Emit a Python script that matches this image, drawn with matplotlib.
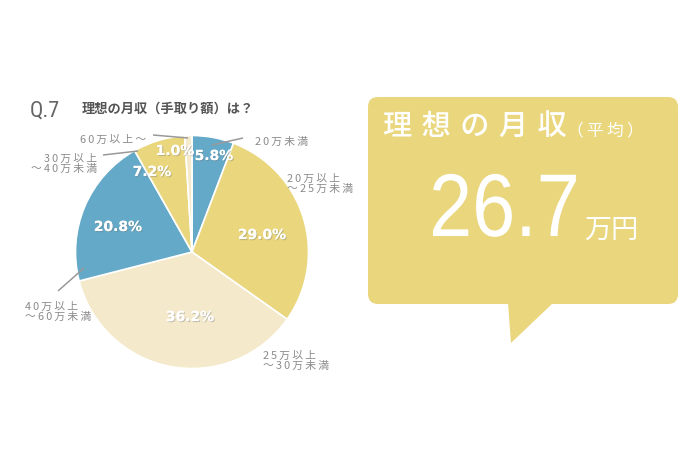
import matplotlib
matplotlib.use('Agg')
import matplotlib.pyplot as plt
import matplotlib.patheffects as pe
from matplotlib.patches import FancyBboxPatch, Polygon, PathPatch
from matplotlib.textpath import TextPath
from matplotlib.font_manager import FontProperties
from matplotlib.transforms import Affine2D

plt.rcParams['font.family'] = ['Noto Sans CJK JP', 'DejaVu Sans']

# データ
categories = ['20万未満', '20万以上\n～25万未満', '25万以上\n～30万未満',
              '40万以上\n～60万未満', '30万以上\n～40万未満', '60万以上～']
values = [5.8, 29.0, 36.2, 20.8, 7.2, 1.0]
avg_value = 26.7
title_q = 'Q.7'
title_text = '理想の月収（手取り額）は？'

# 色
BLUE = '#64a9c7'
YELLOW = '#e9d67d'
CREAM = '#f4e9ca'
colors = [BLUE, YELLOW, CREAM, BLUE, YELLOW, CREAM]
GRAY = '#8a8a8a'

fig = plt.figure(figsize=(6.9, 4.6), dpi=100)
ax = fig.add_axes([0, 0, 1, 1])

# 円グラフ (y軸反転なので startangle=-90 で上から時計回り)
cx, cy, r = 192, 253, 116.5
wedges, _ = ax.pie(values, colors=colors, startangle=-90, counterclock=True,
                   center=(cx, cy), radius=r,
                   wedgeprops=dict(edgecolor='white', linewidth=1.2))
ax.set_xlim(0, 690)
ax.set_ylim(460, 0)
ax.set_aspect('equal')
ax.axis('off')

# パーセント表示 (位置は手で調整)
pct_pos = [(214, 157), (262, 236), (190, 318), (118, 228), (152, 173), (175, 152)]
shadow = [pe.withSimplePatchShadow(offset=(0.8, -0.8), shadow_rgbFace='#777777', alpha=0.35), pe.Normal()]
for v, (x, y) in zip(values, pct_pos):
    ax.text(x, y, f'{v:.1f}%', ha='center', va='center', color='white', fontsize=10,
            fontweight='bold', family='DejaVu Sans', path_effects=shadow)

# ラベル
def spaced(t):
    return '\n'.join('\u2009'.join(line) for line in t.split('\n'))

label_pos = [(255, 142, 'left'), (287, 184, 'left'), (263, 361, 'left'),
             (25, 312, 'left'), (97, 164, 'right'), (146, 140, 'right')]
for cat, (x, y, ha) in zip(categories, label_pos):
    ax.text(x, y, spaced(cat), ha=ha, va='center', color=GRAY, fontsize=7.8,
            linespacing=1.0)

# 引き出し線
leaders = [((212, 146), (243, 139)), ((58, 292), (84, 269)),
           ((103, 156), (138, 152)), ((153, 136), (188, 139))]
for (x0, y0), (x1, y1) in leaders:
    ax.plot([x0, x1], [y0, y1], color='#999999', lw=1.1, solid_capstyle='butt')

# タイトル
ax.text(30, 111, title_q, ha='left', va='center', color='#666666', fontsize=16,
        family='Roboto Condensed')
ax.text(82, 109, title_text, ha='left', va='center', color='#555555', fontsize=9.5,
        fontweight='bold')

# 吹き出し
bubble = FancyBboxPatch((368, 98), 310, 207, boxstyle='round,pad=0,rounding_size=10',
                        facecolor=YELLOW, edgecolor='none')
ax.add_patch(bubble)
tail = Polygon([(508, 304), (553, 304), (511, 344)], closed=True,
               facecolor=YELLOW, edgecolor='none')
ax.add_patch(tail)

ax.text(383, 127, ' \u200a'.join('理想の月収'), ha='left', va='center', color='white',
        fontsize=21, fontweight='medium')
ax.text(567, 131, '（\u2009平\u2009均\u2009）', ha='left', va='center', color='white', fontsize=12)

# 大きい数字は少し細長くしたいので TextPath で描く
tp = TextPath((0, 0), f'{avg_value}', size=89, prop=FontProperties(family='Liberation Sans'))
ext = tp.get_extents()
sx = 0.87
tr = Affine2D().scale(sx, -1).translate(433 - ext.x0 * sx, 237)
ax.add_patch(PathPatch(tr.transform_path(tp), facecolor='white', edgecolor='none'))

ax.text(584, 238, '万円', ha='left', va='baseline', color='white', fontsize=19.5)

fig.savefig('out.png', dpi=100, facecolor='white')
